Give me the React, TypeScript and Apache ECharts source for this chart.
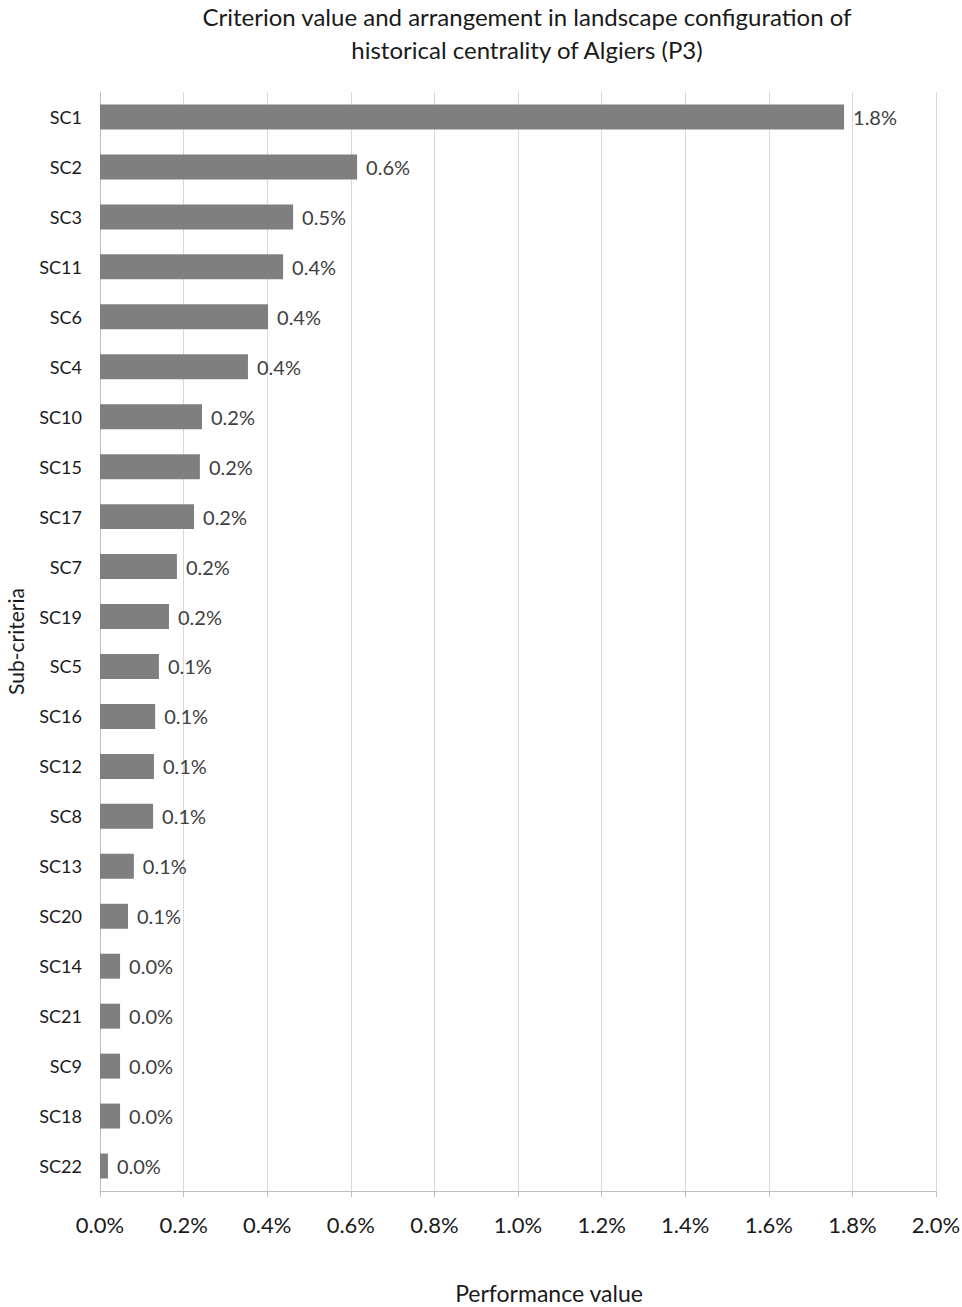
import React, { useEffect, useRef } from 'react';
import * as echarts from 'echarts';

const categories = ['SC1', 'SC2', 'SC3', 'SC11', 'SC6', 'SC4', 'SC10', 'SC15', 'SC17', 'SC7', 'SC19', 'SC5', 'SC16', 'SC12', 'SC8', 'SC13', 'SC20', 'SC14', 'SC21', 'SC9', 'SC18', 'SC22'];
// performance value, in percent
const values = [1.78, 0.615, 0.462, 0.438, 0.402, 0.354, 0.244, 0.239, 0.225, 0.184, 0.165, 0.141, 0.132, 0.129, 0.127, 0.081, 0.067, 0.048, 0.048, 0.048, 0.048, 0.019];
const titleLines = ['Criterion value and arrangement in landscape configuration of', 'historical centrality of Algiers (P3)'];

const FONT = 'Lato';

const App: React.FC = () => {
	const chartRef = useRef<HTMLDivElement>(null);

	useEffect(() => {
		document.body.style.margin = '0';
		if (!chartRef.current) return;
		const chart = echarts.init(chartRef.current, undefined, { renderer: 'svg' });

		const option: echarts.EChartsOption = {
			animation: false,
			backgroundColor: '#fff',
			textStyle: { fontFamily: FONT },
			// two-line title, centred a bit right of the page middle as in the source
			graphic: titleLines.map((line, i) => ({
				type: 'text',
				x: 527,
				y: 16 + i * 33,
				style: {
					text: line,
					fontFamily: FONT,
					fontSize: 24,
					fill: '#1a1a1a',
					textAlign: 'center',
					textVerticalAlign: 'middle'
				}
			})),
			grid: { left: 100, right: 26, top: 92, bottom: 116, outerBoundsMode: 'none' } as any,
			xAxis: {
				type: 'value',
				min: 0,
				max: 2,
				interval: 0.2,
				name: 'Performance value',
				nameLocation: 'middle',
				nameGap: 90,
				nameTextStyle: { fontSize: 23, color: '#1a1a1a', padding: [0, 0, 0, 62] },
				axisLine: { show: true, lineStyle: { color: '#bfbfbf', width: 1 } },
				axisTick: { show: true, length: 6, lineStyle: { color: '#bfbfbf' } },
				axisLabel: { fontSize: 22, color: '#1a1a1a', margin: 22, formatter: (v: number) => v.toFixed(1) + '%' },
				splitLine: { show: true, lineStyle: { color: '#d9d9d9', width: 1 } }
			},
			yAxis: {
				type: 'category',
				data: categories,
				inverse: true,
				name: 'Sub-criteria',
				nameLocation: 'middle',
				nameGap: 74,
				nameTextStyle: { fontSize: 21, color: '#1a1a1a', padding: [0, 0, 0, 0] },
				axisLine: { show: true, lineStyle: { color: '#bfbfbf', width: 1 } },
				axisTick: { show: false },
				axisLabel: { fontSize: 18, color: '#1a1a1a', margin: 18 }
			},
			series: [
				{
					type: 'bar',
					data: values,
					barWidth: '50%',
					itemStyle: { color: '#7f7f7f' },
					label: {
						show: true,
						position: 'right',
						distance: 9,
						fontSize: 20,
						color: '#404040',
						formatter: (p: any) => Number(p.value).toFixed(1) + '%'
					}
				}
			]
		};

		chart.setOption(option);
		return () => {
			chart.dispose();
		};
	}, []);

	return <div ref={chartRef} style={{ width: '962px', height: '1307px' }} />;
};

export default App;
